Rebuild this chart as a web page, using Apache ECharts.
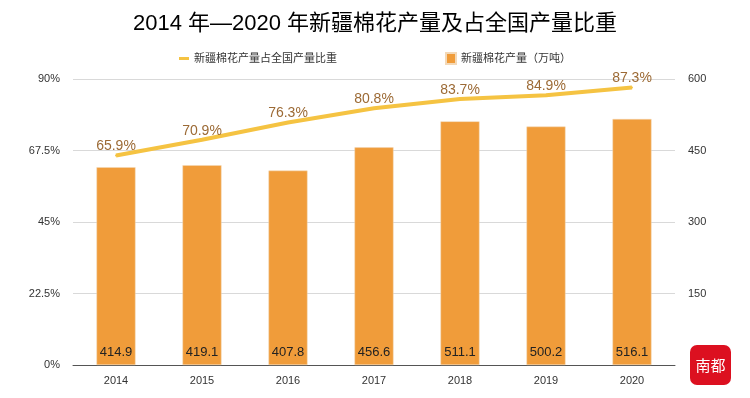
<!DOCTYPE html>
<html>
<head>
<meta charset="utf-8">
<script src="https://cdn.jsdelivr.net/npm/echarts@6/dist/echarts.min.js"></script>
<style>
html, body { margin: 0; padding: 0; background: #fff; }
#chart { width: 750px; height: 398px; }
</style>
</head>
<body>
<div id="chart"></div>
<script>
// 数据
var years = ['2014', '2015', '2016', '2017', '2018', '2019', '2020'];
var output = [414.9, 419.1, 407.8, 456.6, 511.1, 500.2, 516.1];
var share = [65.9, 70.9, 76.3, 80.8, 83.7, 84.9, 87.3];
var leftTicks = ['0%', '22.5%', '45%', '67.5%', '90%'];

var font = 'Liberation Sans, Noto Sans CJK SC, sans-serif';
var myChart = echarts.init(document.getElementById('chart'));

myChart.setOption({
    animation: false,
    textStyle: { fontFamily: font },
    title: {
        text: '2014 年—2020 年新疆棉花产量及占全国产量比重',
        left: 'center',
        top: 8,
        textStyle: { fontSize: 22, fontWeight: 'normal', color: '#000', fontFamily: font }
    },
    legend: {
        top: 47,
        left: 'center',
        itemGap: 108,
        textStyle: { fontSize: 11, color: '#333' },
        data: [
            { name: '新疆棉花产量占全国产量比重', icon: 'path://M0,0 L10,0 L10,3 L0,3 Z', itemStyle: { color: '#F5C342', opacity: 1 } },
            { name: '新疆棉花产量（万吨）', icon: 'rect' }
        ],
        itemWidth: 10,
        itemHeight: 11
    },
    grid: { left: 73, right: 75, top: 79, bottom: 33 },
    xAxis: {
        type: 'category',
        data: years,
        axisTick: { show: false },
        axisLine: { lineStyle: { color: '#555' } },
        axisLabel: { color: '#333', fontSize: 11, margin: 10 }
    },
    yAxis: [
        {
            type: 'value',
            min: 0,
            max: 90,
            interval: 22.5,
            axisLabel: {
                color: '#333',
                fontSize: 11,
                margin: 13,
                formatter: function (v) { return leftTicks[Math.round(v / 22.5)]; }
            },
            splitLine: { lineStyle: { color: '#d9d9d9' } }
        },
        {
            type: 'value',
            min: 0,
            max: 600,
            interval: 150,
            position: 'right',
            axisLabel: {
                color: '#333',
                fontSize: 11,
                margin: 13,
                formatter: function (v) { return v === 0 ? '' : v; }
            },
            splitLine: { show: false }
        }
    ],
    series: [
        {
            name: '新疆棉花产量（万吨）',
            type: 'bar',
            yAxisIndex: 1,
            data: output,
            barWidth: 39,
            itemStyle: { color: '#F09C3A', borderColor: '#f3d9b8', borderWidth: 0.5 },
            label: {
                show: true,
                position: 'insideBottom',
                distance: 6,
                color: '#222',
                fontSize: 13
            }
        },
        {
            name: '新疆棉花产量占全国产量比重',
            type: 'line',
            yAxisIndex: 0,
            data: share,
            symbol: 'circle',
            symbolSize: 2,
            showSymbol: true,
            lineStyle: { color: '#F5C342', width: 4 },
            itemStyle: { color: '#F5C342' },
            label: {
                show: true,
                position: 'top',
                distance: 1,
                color: '#9C6A35',
                fontSize: 14,
                formatter: '{c}%'
            }
        }
    ],
    graphic: [
        {
            type: 'group',
            left: 690,
            top: 345,
            children: [
                { type: 'rect', shape: { x: 0, y: 0, width: 41, height: 40, r: 7 }, style: { fill: '#DC1020' } },
                { type: 'text', x: 20.5, y: 20, style: { text: '南都', fill: '#fff', fontSize: 15, align: 'center', verticalAlign: 'middle', fontFamily: 'Noto Sans CJK SC' } }
            ]
        }
    ]
});
</script>
</body>
</html>
